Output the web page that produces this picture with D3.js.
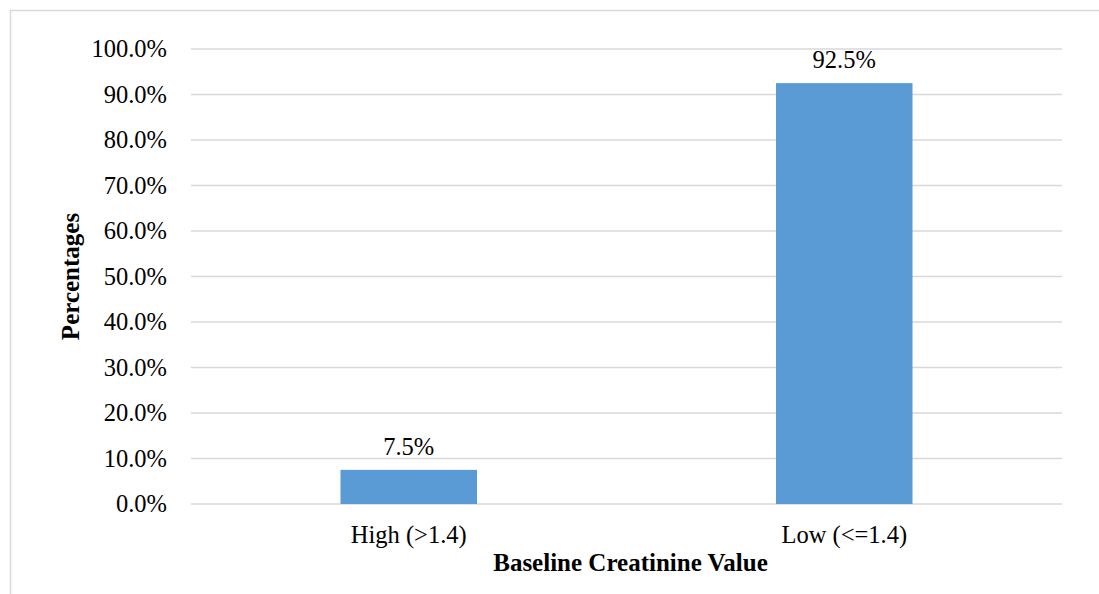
<!DOCTYPE html>
<html>
<head>
<meta charset="utf-8">
<script src="https://cdn.jsdelivr.net/npm/d3@7"></script>
<style>
  html, body { margin: 0; padding: 0; background: #fff; }
  svg { display: block; font-family: "Liberation Serif", "Times New Roman", serif; }
</style>
</head>
<body>
<svg id="chart" width="1099" height="594"></svg>
<script>
// Share of patients by baseline creatinine group
const categories = ["High (>1.4)", "Low (<=1.4)"];
const percentages = [7.5, 92.5];
const yTicks = [0, 10, 20, 30, 40, 50, 60, 70, 80, 90, 100];

const svg = d3.select("#chart");
const W = 1099, H = 594;
const plot = { left: 191, right: 1062, top: 49, bottom: 504 };
const fontSize = 24.5, titleSize = 25;

// Outer chart frame
svg.append("rect")
  .attr("x", 10.5).attr("y", 10.5)
  .attr("width", W + 10).attr("height", H + 10)
  .attr("fill", "#fff").attr("stroke", "#d9d9d9").attr("stroke-width", 1.5);

const x = d3.scaleBand().domain(categories).range([plot.left, plot.right]).padding(0);
const y = d3.scaleLinear().domain([0, 100]).range([plot.bottom, plot.top]);

// Horizontal gridlines
svg.append("g").selectAll("line").data(yTicks).join("line")
  .attr("x1", plot.left).attr("x2", plot.right)
  .attr("y1", d => y(d)).attr("y2", d => y(d))
  .attr("stroke", "#d9d9d9").attr("stroke-width", 1.5);

// Y axis tick labels
const yAxis = d3.axisLeft(y).tickValues(yTicks).tickSize(0).tickPadding(0)
  .tickFormat(d => d.toFixed(1) + "%");
const gy = svg.append("g").attr("transform", `translate(${plot.left - 24},0)`).call(yAxis);
gy.select(".domain").remove();
gy.selectAll("text").attr("font-size", fontSize).attr("fill", "#000")
  .attr("font-family", "Liberation Serif, Times New Roman, serif");

// Bars: width follows a 219% gap between bars
const barW = x.bandwidth() / 3.19;
svg.append("g").selectAll("rect").data(percentages).join("rect")
  .attr("x", (d, i) => x(categories[i]) + x.bandwidth() / 2 - barW / 2)
  .attr("y", d => y(d))
  .attr("width", barW)
  .attr("height", d => y(0) - y(d))
  .attr("fill", "#5b9bd5");

// Value labels
svg.append("g").selectAll("text").data(percentages).join("text")
  .attr("x", (d, i) => x(categories[i]) + x.bandwidth() / 2)
  .attr("y", d => y(d) - 15)
  .attr("text-anchor", "middle")
  .attr("font-size", fontSize).attr("fill", "#000")
  .text(d => d.toFixed(1) + "%");

// X axis category labels
const xAxis = d3.axisBottom(x).tickSize(0).tickPadding(0);
const gx = svg.append("g").attr("transform", `translate(0,${plot.bottom + 22})`).call(xAxis);
gx.select(".domain").remove();
gx.selectAll("text").attr("font-size", fontSize).attr("fill", "#000")
  .attr("font-family", "Liberation Serif, Times New Roman, serif");

// Axis titles
svg.append("text")
  .attr("x", (plot.left + plot.right) / 2 + 4).attr("y", 571)
  .attr("text-anchor", "middle")
  .attr("font-size", titleSize).attr("font-weight", "bold").attr("fill", "#000")
  .text("Baseline Creatinine Value");

svg.append("text")
  .attr("transform", `translate(79,${(plot.top + plot.bottom) / 2}) rotate(-90)`)
  .attr("text-anchor", "middle")
  .attr("font-size", titleSize).attr("font-weight", "bold").attr("fill", "#000")
  .text("Percentages");
</script>
</body>
</html>
